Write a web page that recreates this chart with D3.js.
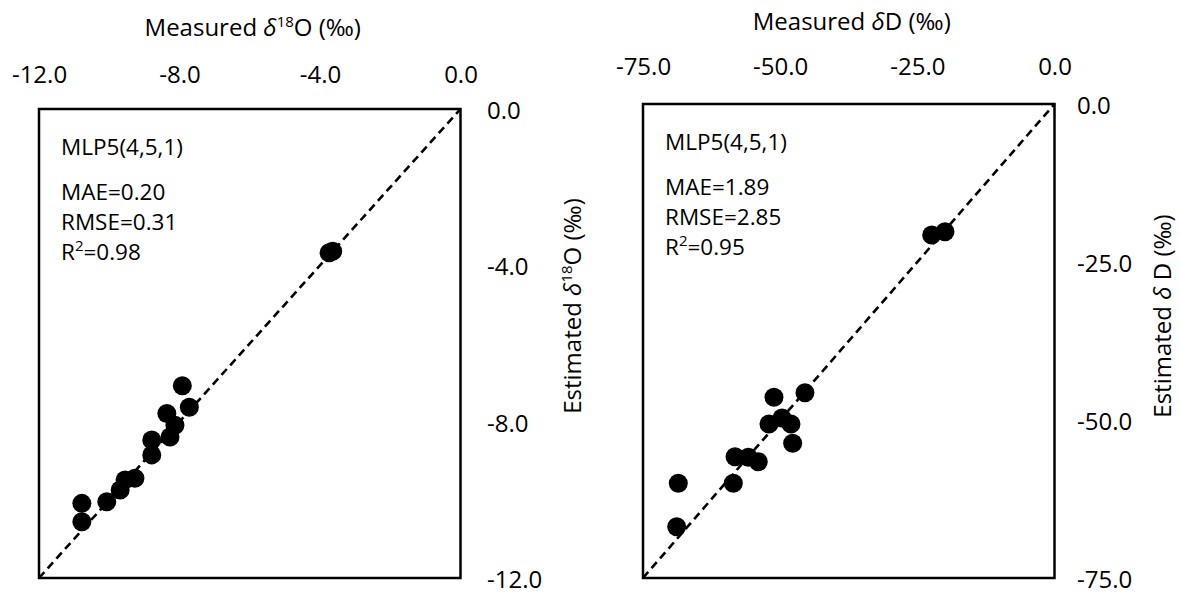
<!DOCTYPE html>
<html>
<head>
<meta charset="utf-8">
<script src="https://d3js.org/d3.v7.min.js"></script>
<style>
  html, body { margin: 0; padding: 0; background: #fff; }
  svg { display: block; font-family: "Open Sans", Lato, sans-serif; }
</style>
</head>
<body>
<svg id="chart" width="1180" height="596"></svg>
<script>
// ---- Data ----
const o18Measured  = [-7.92, -7.72, -8.36, -8.13, -8.27, -8.79, -8.79, -9.27, -9.55, -9.69, -10.07, -10.78, -10.78, -3.74, -3.64];
const o18Estimated = [-7.08, -7.63, -7.79, -8.09, -8.39, -8.47, -8.85, -9.45, -9.49, -9.75, -10.05, -10.09, -10.56, -3.68, -3.64];

const dMeasured  = [-51.13, -45.48, -52.04, -49.67, -48.03, -47.72, -58.23, -55.81, -53.99, -58.54, -68.57, -68.86, -22.38, -19.96];
const dEstimated = [-46.41, -45.68, -50.63, -49.68, -50.63, -53.69, -55.81, -55.90, -56.60, -60.02, -60.02, -66.88, -20.73, -20.21];

const o18Ticks = [-12, -8, -4, 0];
const dTicks   = [-75, -50, -25, 0];

const o18Stats = ["MLP5(4,5,1)", "MAE=0.20", "RMSE=0.31", "R2=0.98"];
const dStats   = ["MLP5(4,5,1)", "MAE=1.89", "RMSE=2.85", "R2=0.95"];

const svg = d3.select("#chart");
const fmt = d => d.toFixed(1);

function drawPanel(cfg) {
  const x = d3.scaleLinear().domain(cfg.domain).range([cfg.left, cfg.right]);
  const y = d3.scaleLinear().domain(cfg.domain).range([cfg.bottom, cfg.top]);
  const g = svg.append("g");

  // frame
  g.append("rect")
    .attr("x", cfg.left).attr("y", cfg.top)
    .attr("width", cfg.right - cfg.left).attr("height", cfg.bottom - cfg.top)
    .attr("fill", "none").attr("stroke", "#000").attr("stroke-width", 2.5);

  // 1:1 line
  g.append("line")
    .attr("x1", x(cfg.domain[0])).attr("y1", y(cfg.domain[0]))
    .attr("x2", x(cfg.domain[1])).attr("y2", y(cfg.domain[1]))
    .attr("stroke", "#000").attr("stroke-width", 2.6)
    .attr("stroke-dasharray", "8,5");

  // points
  g.selectAll("circle.pt").data(cfg.mx.map((v, i) => [v, cfg.my[i]]))
    .join("circle").attr("class", "pt")
    .attr("cx", d => x(d[0])).attr("cy", d => y(d[1]))
    .attr("r", 9.5).attr("fill", "#000");

  // top axis
  const ax = g.append("g").attr("transform", `translate(0,${cfg.top - cfg.xTickOff})`)
    .call(d3.axisTop(x).tickValues(cfg.ticks).tickSize(0).tickPadding(0).tickFormat(fmt));
  ax.select(".domain").remove();
  ax.selectAll("text").attr("font-size", 24).attr("fill", "#000")
    .attr("font-family", "'Open Sans', sans-serif").attr("dy", 0);

  // right axis
  const ay = g.append("g").attr("transform", `translate(${cfg.right + cfg.yTickOff},0)`)
    .call(d3.axisRight(y).tickValues(cfg.ticks).tickSize(0).tickPadding(0).tickFormat(fmt));
  ay.select(".domain").remove();
  ay.selectAll("text").attr("font-size", 24).attr("fill", "#000")
    .attr("font-family", "'Open Sans', sans-serif").attr("text-anchor", "start")
    .attr("dy", "0.4em");

  // x title
  const xt = g.append("text")
    .attr("x", (cfg.left + cfg.right) / 2 + 3).attr("y", cfg.titleY)
    .attr("text-anchor", "middle").attr("font-size", 24).attr("fill", "#000");
  xt.append("tspan").text("Measured ");
  xt.append("tspan").attr("font-style", "italic").text("\u03B4");
  if (cfg.sup) {
    xt.append("tspan").attr("font-size", 15).attr("dy", -9).text(cfg.sup);
    xt.append("tspan").attr("dy", 9).text(cfg.iso + " (\u2030)");
  } else {
    xt.append("tspan").text(cfg.iso + " (\u2030)");
  }

  // y title (rotated)
  const yt = g.append("text")
    .attr("transform", `translate(${cfg.yTitleX},${cfg.yTitleY}) rotate(-90)`)
    .attr("text-anchor", "middle").attr("font-size", 24).attr("fill", "#000");
  yt.append("tspan").text("Estimated ");
  yt.append("tspan").attr("font-style", "italic").text("\u03B4");
  if (cfg.sup) {
    yt.append("tspan").attr("font-size", 15).attr("dy", -9).text(cfg.sup);
    yt.append("tspan").attr("dy", 9).text(cfg.iso + " (\u2030)");
  } else {
    yt.append("tspan").text(" " + cfg.iso + " (\u2030)");
  }

  // stats annotation
  const ann = g.append("g").attr("font-size", 22.5).attr("fill", "#000");
  const ys = [cfg.top + 46, cfg.top + 91, cfg.top + 121, cfg.top + 151];
  cfg.stats.forEach((s, i) => {
    const t = ann.append("text").attr("x", cfg.left + 22).attr("y", ys[i]);
    if (s.startsWith("R2")) {
      t.append("tspan").text("R");
      t.append("tspan").attr("font-size", 15).attr("dy", -9).text("2");
      t.append("tspan").attr("dy", 9).text(s.slice(2));
    } else {
      t.text(s);
    }
  });
}

drawPanel({
  domain: [-12, 0], left: 39, right: 460.5, top: 109, bottom: 578,
  mx: o18Measured, my: o18Estimated, ticks: o18Ticks, stats: o18Stats,
  xTickOff: 26, yTickOff: 26.5, titleY: 36, yTitleX: 581, yTitleY: 306,
  sup: "18", iso: "O"
});

drawPanel({
  domain: [-75, 0], left: 643, right: 1054.5, top: 104, bottom: 578,
  mx: dMeasured, my: dEstimated, ticks: dTicks, stats: dStats,
  xTickOff: 29, yTickOff: 22.5, titleY: 30, yTitleX: 1171, yTitleY: 316,
  sup: null, iso: "D"
});
</script>
</body>
</html>
